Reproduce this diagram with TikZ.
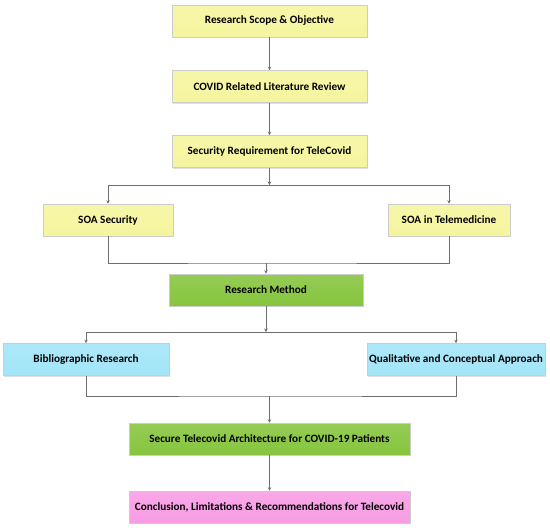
\documentclass[tikz,border=0pt]{standalone}
\usepackage{fontspec}
\setmainfont{Carlito}
\usetikzlibrary{arrows.meta,shadows}
\definecolor{boxyel}{HTML}{F5F59E}
\definecolor{boxgrn}{HTML}{86C53E}
\definecolor{boxcyn}{HTML}{A2E5F8}
\definecolor{boxpnk}{HTML}{F89CE4}
\definecolor{linegr}{HTML}{6E6E6E}

\begin{document}
\begin{tikzpicture}[x=1pt,y=-1pt,
  box/.style={draw=black!20, line width=.6pt, minimum height=32pt, inner sep=0pt,
    font=\fontsize{11.2}{13}\selectfont\bfseries,
    drop shadow={shadow xshift=1pt, shadow yshift=-1pt, opacity=.25}},
  yel/.style={box, top color=boxyel!88!white, bottom color=boxyel},
  grn/.style={box, top color=boxgrn!88!white, bottom color=boxgrn},
  cyn/.style={box, top color=boxcyn!88!white, bottom color=boxcyn},
  pnk/.style={box, top color=boxpnk!88!white, bottom color=boxpnk},
  conn/.style={draw=linegr, line width=.8pt},
  arr/.style={conn, -{Stealth[length=3.5pt,width=3.5pt]}}]
\useasboundingbox (0,0) rectangle (550,528);
\node[yel, minimum width=195pt] (scope) at (269.5,21) {Research Scope \& Objective};
\node[yel, minimum width=195pt] (review) at (269.5,86.5) {COVID Related Literature Review};
\node[yel, minimum width=195pt] (secreq) at (269.5,151.5) {Security Requirement for TeleCovid};
\node[yel, minimum width=130pt] (soasec) at (108,220) {SOA Security};
\node[yel, minimum width=122pt] (soatele) at (449,220) {SOA in Telemedicine};
\node[grn, minimum width=194pt] (method) at (266,290) {Research Method};
\node[cyn, minimum width=166pt] (biblio) at (86,359.5) {Bibliographic Research};
\node[cyn, minimum width=178pt] (qualit) at (456,359.5) {Qualitative and Conceptual Approach};
\node[grn, minimum width=281pt] (secure) at (269.5,439) {Secure Telecovid Architecture for COVID-19 Patients};
\node[pnk, minimum width=281pt] (concl) at (269.5,507) {Conclusion, Limitations \& Recommendations for Telecovid};

\coordinate (split1) at (269.5,185);
\coordinate (join1) at (266,263);
\coordinate (split2) at (266,332);
\coordinate (join2) at (269.5,396);

\draw[arr] (scope) -- (review);
\draw[arr] (review) -- (secreq);
\draw[arr] (secreq) -- (split1);
\draw[arr] (split1) -| (soasec.north);
\draw[arr] (split1) -| (soatele.north);
\draw[conn] (soasec.south) |- (join1) -| (soatele.south);
\draw[arr] (join1) -- (method);
\draw[arr] (method) -- (split2);
\draw[arr] (split2) -| (biblio.north);
\draw[arr] (split2) -| (qualit.north);
\draw[conn] (biblio.south) |- (join2) -| (qualit.south);
\draw[arr] (join2) -- (secure);
\draw[arr] (secure) -- (concl);
\end{tikzpicture}
\end{document}
